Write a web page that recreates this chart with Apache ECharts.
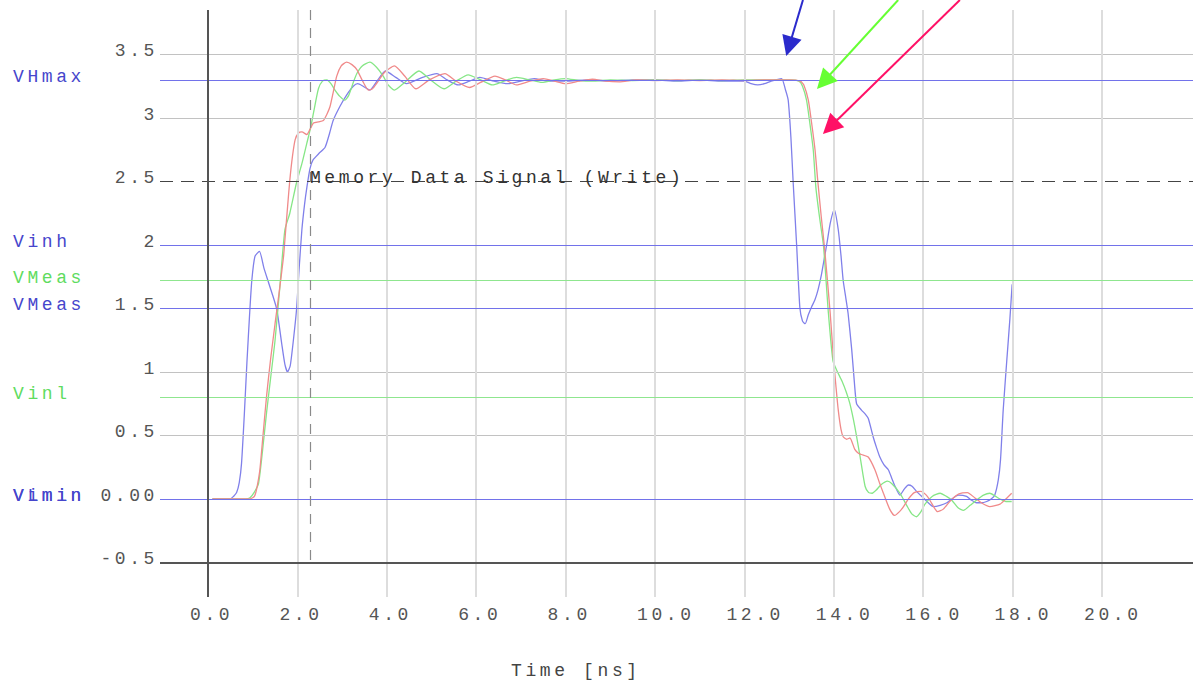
<!DOCTYPE html>
<html><head><meta charset="utf-8">
<script src="https://cdn.jsdelivr.net/npm/echarts@6/dist/echarts.min.js"></script>
<style>html,body{margin:0;padding:0;background:#fff}#c{width:1193px;height:682px;letter-spacing:3.6px}</style>
</head><body><div id="c"></div>
<script>
// ---- data ----
const BLUE = [[0.1,0],[0.5,0],[0.57,0.02],[0.64,0.05],[0.70,0.13],[0.75,0.28],[0.81,0.65],[0.87,1.07],[0.93,1.45],[0.98,1.72],[1.05,1.91],[1.15,1.95],[1.25,1.82],[1.34,1.72],[1.45,1.6],[1.54,1.49],[1.65,1.22],[1.72,1.06],[1.78,1.0],[1.84,1.05],[1.91,1.25],[1.98,1.49],[2.04,1.82],[2.10,2.12],[2.16,2.32],[2.21,2.45],[2.28,2.60],[2.35,2.67],[2.48,2.72],[2.62,2.77],[2.72,2.88],[2.80,2.98],[2.95,3.09],[3.1,3.18],[3.25,3.25],[3.35,3.27],[3.47,3.25],[3.62,3.22],[3.8,3.30],[3.97,3.37],[4.2,3.32],[4.44,3.27],[4.8,3.32],[5.12,3.35],[5.35,3.30],[5.6,3.26],[5.85,3.29],[6.08,3.32],[6.4,3.29],[6.7,3.27],[7.0,3.29],[7.3,3.31],[7.6,3.29],[8.0,3.29],[8.5,3.30],[9.0,3.29],[9.5,3.30],[10.0,3.30],[10.5,3.29],[11.0,3.30],[11.5,3.29],[12.0,3.29],[12.15,3.27],[12.3,3.26],[12.45,3.27],[12.6,3.29],[12.83,3.31],[12.92,3.22],[12.98,3.14],[13.04,2.85],[13.09,2.50],[13.17,1.99],[13.24,1.51],[13.30,1.40],[13.36,1.38],[13.43,1.45],[13.5,1.51],[13.58,1.57],[13.65,1.65],[13.72,1.76],[13.77,1.86],[13.85,2.02],[13.92,2.17],[14.01,2.28],[14.10,2.12],[14.16,1.92],[14.21,1.72],[14.27,1.58],[14.32,1.46],[14.40,1.18],[14.46,0.92],[14.51,0.75],[14.62,0.70],[14.70,0.67],[14.77,0.635],[14.88,0.49],[14.96,0.40],[15.03,0.33],[15.12,0.27],[15.22,0.23],[15.30,0.16],[15.37,0.10],[15.48,0.03],[15.58,0.08],[15.67,0.11],[15.75,0.10],[15.85,0.06],[16.0,0.01],[16.23,-0.06],[16.38,-0.05],[16.53,-0.03],[16.68,0.01],[16.79,0.03],[16.97,0.02],[17.08,-0.01],[17.19,-0.03],[17.30,-0.03],[17.42,-0.02],[17.52,0.0],[17.60,0.03],[17.68,0.15],[17.73,0.31],[17.79,0.70],[17.87,1.09],[17.94,1.42],[17.99,1.69]];
const RED = [[0.1,0],[0.9,0],[1.0,0.01],[1.05,0.03],[1.10,0.10],[1.16,0.23],[1.23,0.50],[1.31,0.81],[1.40,1.10],[1.50,1.38],[1.60,1.65],[1.69,1.91],[1.72,2.04],[1.78,2.30],[1.83,2.51],[1.89,2.70],[1.95,2.83],[2.02,2.88],[2.10,2.89],[2.21,2.87],[2.28,2.91],[2.36,2.96],[2.47,2.97],[2.58,2.98],[2.66,3.03],[2.73,3.09],[2.80,3.20],[2.88,3.33],[2.98,3.41],[3.10,3.44],[3.22,3.42],[3.33,3.38],[3.46,3.29],[3.59,3.22],[3.68,3.23],[3.77,3.27],[3.95,3.36],[4.17,3.41],[4.40,3.33],[4.65,3.23],[4.95,3.30],[5.3,3.35],[5.55,3.29],[5.85,3.24],[6.1,3.28],[6.42,3.33],[6.65,3.30],[6.9,3.26],[7.2,3.29],[7.5,3.31],[7.75,3.29],[8.0,3.27],[8.3,3.29],[8.6,3.305],[8.9,3.29],[9.2,3.285],[9.6,3.30],[10.0,3.295],[10.5,3.30],[11.0,3.295],[11.5,3.30],[12.0,3.295],[12.5,3.30],[13.0,3.30],[13.25,3.29],[13.33,3.26],[13.43,3.14],[13.50,2.97],[13.58,2.75],[13.64,2.51],[13.72,2.22],[13.80,1.95],[13.92,1.46],[13.99,1.12],[14.05,0.88],[14.10,0.70],[14.16,0.55],[14.21,0.49],[14.29,0.47],[14.36,0.48],[14.47,0.39],[14.55,0.36],[14.62,0.35],[14.77,0.33],[14.92,0.23],[15.02,0.13],[15.11,0.045],[15.25,-0.08],[15.36,-0.13],[15.47,-0.10],[15.56,-0.06],[15.67,0.0],[15.8,0.05],[15.95,0.06],[16.07,0.03],[16.15,-0.01],[16.25,-0.07],[16.32,-0.10],[16.45,-0.08],[16.62,-0.01],[16.8,0.04],[16.99,0.05],[17.15,0.01],[17.3,-0.03],[17.49,-0.06],[17.72,-0.04],[17.85,0.0],[17.98,0.045]];
const GREEN = [[0.1,0],[0.85,0],[0.94,0.01],[1.03,0.05],[1.13,0.12],[1.22,0.38],[1.31,0.68],[1.40,0.95],[1.50,1.25],[1.61,1.68],[1.72,2.12],[1.83,2.25],[1.98,2.49],[2.10,2.64],[2.21,2.80],[2.30,2.93],[2.36,3.04],[2.47,3.23],[2.56,3.29],[2.66,3.30],[2.75,3.27],[2.84,3.22],[2.95,3.17],[3.06,3.14],[3.15,3.18],[3.25,3.28],[3.33,3.35],[3.45,3.41],[3.62,3.44],[3.77,3.40],[3.92,3.33],[4.03,3.26],[4.17,3.22],[4.4,3.28],[4.72,3.37],[4.98,3.30],[5.28,3.23],[5.55,3.29],[5.82,3.34],[6.1,3.30],[6.36,3.26],[6.62,3.29],[6.9,3.32],[7.2,3.30],[7.47,3.28],[7.75,3.30],[8.0,3.31],[8.3,3.295],[8.6,3.29],[9.0,3.30],[9.5,3.295],[10.0,3.30],[10.5,3.295],[11.0,3.30],[11.5,3.295],[12.0,3.30],[12.5,3.30],[13.0,3.30],[13.22,3.29],[13.30,3.25],[13.39,3.14],[13.46,2.97],[13.54,2.75],[13.60,2.45],[13.68,2.22],[13.77,1.99],[13.88,1.46],[13.98,1.09],[14.07,1.01],[14.18,0.93],[14.28,0.84],[14.36,0.75],[14.47,0.57],[14.59,0.33],[14.70,0.10],[14.78,0.05],[14.86,0.045],[14.95,0.07],[15.05,0.11],[15.2,0.14],[15.3,0.12],[15.48,0.045],[15.63,-0.05],[15.75,-0.12],[15.85,-0.14],[15.95,-0.10],[16.04,-0.04],[16.2,0.02],[16.38,0.045],[16.52,0.02],[16.64,-0.01],[16.78,-0.07],[16.9,-0.09],[17.05,-0.05],[17.19,-0.01],[17.35,0.03],[17.49,0.045],[17.62,0.02],[17.72,0.0],[17.85,-0.02],[17.98,-0.02]];

const X_TICKS = [0,2,4,6,8,10,12,14,16,18,20];
const X_TICK_LABELS = ['0.0','2.0','4.0','6.0','8.0','10.0','12.0','14.0','16.0','18.0','20.0'];
const Y_TICKS = [3.5,3,2.5,2,1.5,1,0.5,0,-0.5];
const Y_TICK_LABELS = ['3.5','3','2.5','2','1.5','1','0.5','0.00','-0.5'];
const Y_GRID = [3.5,3,1,0.5];
const REF_NAMES = ['VHmax','Vinh','VMeas','VMeas','Vinl','VLmin','Vimin'];
const REF_VALUES = [3.3, 2.0, 1.72, 1.5, 0.8, 0.0, 0.0];
const REF_KINDS = ['blue','blue','green','blue','green','blue','blue'];
const MARKER_TIME = 2.28;
const TITLE_TEXT = 'Memory Data Signal (Write)';
const TITLE_LEVEL = 2.5;
const X_NAME = 'Time [ns]';
const X_NAME_TIME = 8.23;
const ARROW_FROM = [[13.31,3.929],[15.44,3.929],[16.82,3.929]];
const ARROW_HEAD = [[13.0,3.564],[13.774,3.287],[13.917,2.929]];

// ---- styling / layout ----
const X_MIN=-1.074, X_MAX=22.036, Y_MIN=-0.772, Y_MAX=3.929, GRID_TOP_V=3.85;
const FONT = '"Liberation Mono", "DejaVu Sans Mono", monospace';
const REF_COLORS = {blue:'#7272ea', green:'#8fe68f'};
const REF_TEXT = {blue:'#4646cc', green:'#5fdc5f'};
const ARROW_COLORS = ['#2b2bcc','#66ff33','#ff1166'];

const chart = echarts.init(document.getElementById('c'), null, {renderer:'svg'});

const gridLines = [];
Y_GRID.forEach(v => gridLines.push({yAxis:v, lineStyle:{color:'#c2c2c2', width:1, type:'solid'}}));
X_TICKS.filter(t => t>0).forEach(t => gridLines.push([{coord:[t,GRID_TOP_V], lineStyle:{color:'#dddddd', width:2, type:'solid'}},{coord:[t,Y_MIN]}]));
gridLines.push({yAxis:TITLE_LEVEL, lineStyle:{color:'#444', width:1, type:[13,8]}});
const seenRef = new Set();
REF_VALUES.forEach((v,i) => {
  if (seenRef.has(v)) return;
  seenRef.add(v);
  gridLines.push({yAxis:v, lineStyle:{color:REF_COLORS[REF_KINDS[i]], width:1, type:'solid'}});
});
gridLines.push({yAxis:-0.5, lineStyle:{color:'#555', width:2, type:'solid'}});
gridLines.push([{coord:[0,GRID_TOP_V], lineStyle:{color:'#555', width:2, type:'solid'}},{coord:[0,Y_MIN]}]);
gridLines.push([{coord:[MARKER_TIME,GRID_TOP_V], lineStyle:{color:'#8a8a8a', width:1.2, type:[10,8]}},{coord:[MARKER_TIME,-0.54]}]);

const arrowLines = ARROW_FROM.map((f,i) => [
  {coord:f, symbol:'none', lineStyle:{color:ARROW_COLORS[i], width:2, type:'solid'}, itemStyle:{color:ARROW_COLORS[i]}},
  {coord:ARROW_HEAD[i], symbol:'triangle', symbolSize:20, itemStyle:{color:ARROW_COLORS[i]}}
]);

function curve(name, data, color){
  return {name, type:'line', data, showSymbol:false, symbol:'none', smooth:0.2, z:3, silent:true,
    lineStyle:{color, width:1.3}, itemStyle:{color}, animation:false};
}

chart.setOption({
  animation:false,
  grid:{left:160,right:0,top:0,bottom:85},
  xAxis:{type:'value', min:X_MIN, max:X_MAX, show:false},
  yAxis:{type:'value', min:Y_MIN, max:Y_MAX, show:false},
  series:[
    {type:'line', data:[], z:1, silent:true,
      markLine:{silent:true, symbol:'none', animation:false, label:{show:false}, emphasis:{disabled:true}, data:gridLines}},
    curve('Blue', BLUE, '#8080ea'),
    curve('Green', GREEN, '#86e686'),
    curve('Red', RED, '#f08a8a'),
    {type:'line', data:[], z:5, silent:true, clip:false,
      markLine:{silent:true, symbol:['none','triangle'], symbolSize:20, animation:false, label:{show:false}, emphasis:{disabled:true}, data:arrowLines}}
  ]
});

const px = p => chart.convertToPixel({gridIndex:0}, p);
const texts = [];
function txt(text, x, y, fill, align){
  texts.push({type:'text', x, y, silent:true, z:10,
    style:{text, fill, fontSize:18, fontFamily:FONT, textAlign:align, align:align, textVerticalAlign:'middle', verticalAlign:'middle'}});
}
const leftEdge = px([X_MIN,0])[0];
Y_TICKS.forEach((v,i) => txt(Y_TICK_LABELS[i], leftEdge-2, px([0,v])[1]-3, '#555', 'right'));
X_TICKS.forEach((t,i) => txt(X_TICK_LABELS[i], px([t,0])[0]-18, 615, '#555', 'left'));
REF_VALUES.forEach((v,i) => txt(REF_NAMES[i], 13, px([0,v])[1]-3, REF_TEXT[REF_KINDS[i]], 'left'));
const tp = px([MARKER_TIME, TITLE_LEVEL]);
txt(TITLE_TEXT, tp[0], tp[1]-3, '#333', 'left');
txt(X_NAME, px([X_NAME_TIME,0])[0], 671, '#444', 'center');
chart.setOption({graphic:{elements:texts}});
</script></body></html>
